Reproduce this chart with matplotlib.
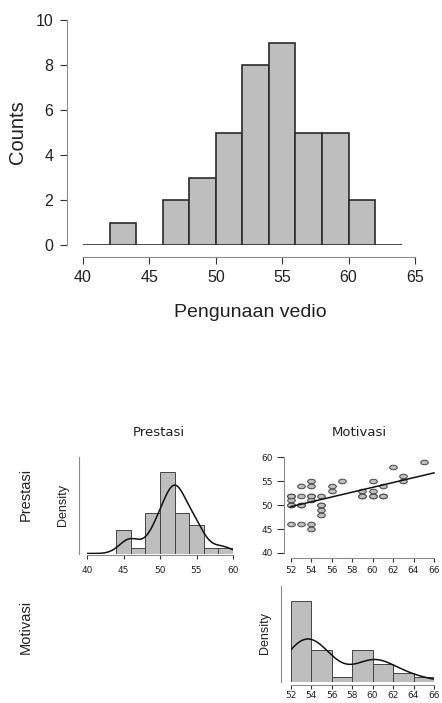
import numpy as np
import matplotlib
matplotlib.use("Agg")
import matplotlib.pyplot as plt
from matplotlib import font_manager
from matplotlib.path import Path
from matplotlib.transforms import Affine2D

# ---------------- data ----------------
top_bin_edges = [40, 42, 44, 46, 48, 50, 52, 54, 56, 58, 60, 62, 64]
top_counts = [0, 1, 0, 2, 3, 5, 8, 9, 5, 5, 2, 0]
top_xticks = [40, 45, 50, 55, 60, 65]
top_yticks = [0, 2, 4, 6, 8, 10]
top_xlabel = "Pengunaan vedio"
top_ylabel = "Counts"

var_names = ["Prestasi", "Motivasi"]
motivasi = [52, 52, 52, 52, 53, 53, 53, 53, 54, 54, 54, 54, 54, 54,
            55, 55, 55, 55, 56, 56, 57, 59, 59, 60, 60, 60, 61, 61,
            62, 63, 63, 65,
            61, 59, 60, 55, 52, 53, 52, 54]
prestasi = [52, 51, 50, 46, 54, 52, 50, 46, 55, 54, 52, 51, 46, 45,
            52, 50, 49, 48, 54, 53, 55, 53, 52, 55, 53, 52, 54, 52,
            58, 56, 55, 59,
            52, 52, 52, 50, 50, 50, 52, 52]
prestasi_bins = [44, 46, 48, 50, 52, 54, 56, 58, 60]
motivasi_bins = [52, 54, 56, 58, 60, 62, 64, 66]
prestasi_ticks = [40, 45, 50, 55, 60]
motivasi_ticks = [52, 54, 56, 58, 60, 62, 64, 66]
scatter_yticks = [40, 45, 50, 55, 60]
density_label = "Density"

# ---------------- style ----------------
W, H = 442, 703
DPI = 100
BAR_FC = "#bebebe"
EDGE = "#2b2b2b"
SPINE_C = "#8c8c8c"
TICK_C = "#333333"


def pick_font(names):
    for n in names:
        try:
            font_manager.findfont(font_manager.FontProperties(family=n),
                                  fallback_to_default=False)
            return n
        except Exception:
            continue
    return "DejaVu Sans"


ARIAL = pick_font(["Liberation Sans", "Arimo", "DejaVu Sans"])
NARROW = pick_font(["Liberation Sans Narrow", "DejaVu Sans Condensed", "Liberation Sans"])
WIDE = "DejaVu Sans"

fig = plt.figure(figsize=(W / DPI, H / DPI), dpi=DPI, facecolor="white")


def px_axes(x0, x1, ytop, ybot):
    return fig.add_axes([x0 / W, 1 - ybot / H, (x1 - x0) / W, (ybot - ytop) / H])


def px2pt(p):
    return p * 72.0 / DPI


def style_axes(ax, left_out, bottom_out, xb, yb, ticklen=(3, 3),
               pad=(3, 3), fs=6.5, family=WIDE):
    for s in ["top", "right"]:
        ax.spines[s].set_visible(False)
    ax.spines["left"].set_position(("outward", px2pt(left_out)))
    ax.spines["bottom"].set_position(("outward", px2pt(bottom_out)))
    for s in ["left", "bottom"]:
        ax.spines[s].set_color(SPINE_C)
        ax.spines[s].set_linewidth(0.8)
    ax.spines["bottom"].set_bounds(*xb)
    ax.spines["left"].set_bounds(*yb)
    ax.tick_params(axis="x", length=ticklen[0], width=0.8, color=TICK_C,
                   pad=pad[0], labelsize=fs, labelcolor="#222222")
    ax.tick_params(axis="y", length=ticklen[1], width=0.8, color=TICK_C,
                   pad=pad[1], labelsize=fs, labelcolor="#222222")
    for lab in ax.get_xticklabels() + ax.get_yticklabels():
        lab.set_family(family)


def hist_right_closed(x, edges):
    x = np.asarray(x, float)
    edges = np.asarray(edges, float)
    idx = np.searchsorted(edges, x, side="left") - 1
    idx = np.clip(idx, 0, len(edges) - 2)
    return np.bincount(idx, minlength=len(edges) - 1)


def kde(x, grid):
    x = np.asarray(x, float)
    n = len(x)
    sd = np.std(x, ddof=1)
    iqr = np.percentile(x, 75) - np.percentile(x, 25)
    bw = 0.9 * min(sd, iqr / 1.34) * n ** (-0.2)
    z = (grid[:, None] - x[None, :]) / bw
    return np.exp(-0.5 * z ** 2).sum(axis=1) / (n * bw * np.sqrt(2 * np.pi))


# ---------------- top histogram ----------------
ax = px_axes(83, 415, 20, 245)
edges = np.array(top_bin_edges, float)
ax.bar(edges[:-1], top_counts, width=np.diff(edges), align="edge",
       color=BAR_FC, edgecolor=EDGE, linewidth=1.2, zorder=2)
ax.set_xlim(top_xticks[0], top_xticks[-1])
ax.set_ylim(top_yticks[0], top_yticks[-1])
ax.set_xticks(top_xticks)
ax.set_yticks(top_yticks)
style_axes(ax, 16.3, 11.7, (top_xticks[0], top_xticks[-1]),
           (top_yticks[0], top_yticks[-1]),
           ticklen=(5.3, 5.3), pad=(4.5, 4.3), fs=11.5, family=ARIAL)
ax.patch.set_alpha(0)
fig.text(250 / W, 1 - 312 / H, top_xlabel, ha="center", va="center",
         fontsize=14, family=ARIAL, color="#222222")
fig.text(17.5 / W, 1 - 132.5 / H, top_ylabel, ha="center", va="center",
         rotation=90, fontsize=14.5, family=ARIAL, color="#222222")

# ---------------- bottom matrix ----------------
# Prestasi histogram
axp = px_axes(87, 233, 457, 553.5)
pe = np.array(prestasi_bins, float)
pc = hist_right_closed(prestasi, pe)
pdens = pc / (len(prestasi) * np.diff(pe))
axp.bar(pe[:-1], pdens, width=np.diff(pe), align="edge", color=BAR_FC,
        edgecolor="#444444", linewidth=0.7, zorder=2)
gp = np.linspace(prestasi_ticks[0], prestasi_ticks[-1], 400)
axp.plot(gp, kde(prestasi, gp), color="#111111", lw=1.1, zorder=3)
ptop = pdens.max() * 1.19
axp.set_xlim(prestasi_ticks[0], prestasi_ticks[-1])
axp.set_ylim(0, ptop)
axp.set_xticks(prestasi_ticks)
axp.set_yticks([])
style_axes(axp, 8, 1.5, (prestasi_ticks[0], prestasi_ticks[-1]), (0, ptop),
           ticklen=(3, 3), pad=(5, 3), fs=6.5)
axp.patch.set_alpha(0)

# Scatter
axs = px_axes(290.7, 434, 457.3, 553)
ell = Path.unit_circle().transformed(Affine2D().scale(1.0, 0.6))
axs.scatter(motivasi, prestasi, marker=ell, s=30, facecolor=BAR_FC,
            edgecolor="#444444", linewidth=0.7, zorder=2, clip_on=False)
b, a = np.polyfit(motivasi, prestasi, 1)
lx = np.array([motivasi_ticks[0], motivasi_ticks[-1]], float)
axs.plot(lx, a + b * lx, color="#111111", lw=1.1, zorder=3, clip_on=False)
axs.set_xlim(motivasi_ticks[0], motivasi_ticks[-1])
axs.set_ylim(scatter_yticks[0], scatter_yticks[-1])
axs.set_xticks(motivasi_ticks)
axs.set_yticks(scatter_yticks)
style_axes(axs, 6.5, 5, (motivasi_ticks[0], motivasi_ticks[-1]),
           (scatter_yticks[0], scatter_yticks[-1]),
           ticklen=(3, 5.3), pad=(3, 3), fs=6.5)
axs.patch.set_alpha(0)

# Motivasi histogram
axm = px_axes(290.7, 434, 585.5, 682)
me = np.array(motivasi_bins, float)
mc = hist_right_closed(motivasi, me)
mdens = mc / (len(motivasi) * np.diff(me))
axm.bar(me[:-1], mdens, width=np.diff(me), align="edge", color=BAR_FC,
        edgecolor="#444444", linewidth=0.7, zorder=2)
gm = np.linspace(motivasi_ticks[0], motivasi_ticks[-1], 400)
axm.plot(gm, kde(motivasi, gm), color="#111111", lw=1.1, zorder=3)
mtop = mdens.max() * 1.19
axm.set_xlim(motivasi_ticks[0], motivasi_ticks[-1])
axm.set_ylim(0, mtop)
axm.set_xticks(motivasi_ticks)
axm.set_yticks([])
style_axes(axm, 9.7, 2.5, (motivasi_ticks[0], motivasi_ticks[-1]), (0, mtop),
           ticklen=(3, 3), pad=(2, 3), fs=6.5)
axm.patch.set_alpha(0)

# titles / labels
fig.text(159 / W, 1 - 432.5 / H, var_names[0], ha="center", va="center",
         fontsize=9.5, family=WIDE, color="#222222")
fig.text(359.5 / W, 1 - 432.5 / H, var_names[1], ha="center", va="center",
         fontsize=9.5, family=WIDE, color="#222222")
fig.text(26 / W, 1 - 494.5 / H, var_names[0], ha="center", va="center",
         rotation=90, fontsize=10.5, family=NARROW, color="#222222")
fig.text(26 / W, 1 - 627 / H, var_names[1], ha="center", va="center",
         rotation=90, fontsize=10.5, family=NARROW, color="#222222")
fig.text(62.5 / W, 1 - 505 / H, density_label, ha="center", va="center",
         rotation=90, fontsize=9, family=NARROW, color="#222222")
fig.text(265 / W, 1 - 633 / H, density_label, ha="center", va="center",
         rotation=90, fontsize=9, family=NARROW, color="#222222")

fig.savefig("out.png", dpi=DPI, facecolor="white")
